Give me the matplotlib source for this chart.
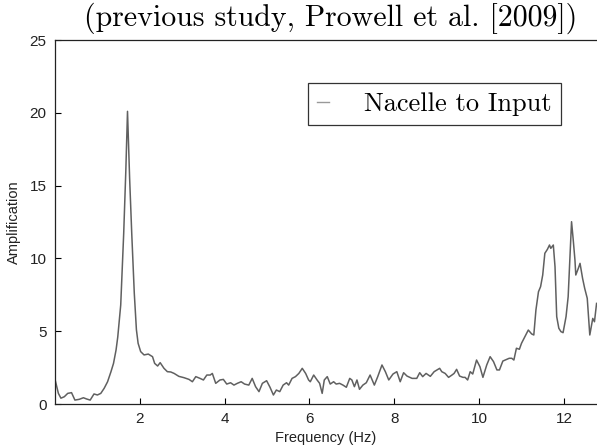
import matplotlib.pyplot as plt
from matplotlib.lines import Line2D

# transfer function, nacelle to input
FREQ = [0.0, 0.04, 0.08, 0.14, 0.22, 0.30, 0.39, 0.47, 0.57, 0.67, 0.75, 0.83, 0.92, 1.0,
        1.08, 1.16, 1.24, 1.32, 1.38, 1.44, 1.48, 1.55, 1.62, 1.67, 1.71, 1.76, 1.81, 1.87,
        1.92, 1.96, 2.02, 2.10, 2.20, 2.30, 2.35, 2.42, 2.48, 2.57, 2.65, 2.73, 2.81, 2.92,
        3.04, 3.16, 3.24, 3.32, 3.42, 3.50, 3.58, 3.66, 3.71, 3.79, 3.89, 3.97, 4.05, 4.14,
        4.22, 4.30, 4.39, 4.47, 4.57, 4.65, 4.73, 4.81, 4.89, 4.99, 5.07, 5.15, 5.22, 5.30,
        5.38, 5.46, 5.51, 5.59, 5.67, 5.75, 5.83, 5.91, 5.98, 6.02, 6.10, 6.18, 6.24, 6.30,
        6.35, 6.42, 6.49, 6.57, 6.63, 6.71, 6.79, 6.87, 6.95, 7.0, 7.06, 7.12, 7.18, 7.26,
        7.34, 7.43, 7.53, 7.61, 7.71, 7.79, 7.87, 7.97, 8.06, 8.14, 8.22, 8.30, 8.42, 8.53,
        8.60, 8.67, 8.75, 8.85, 8.94, 9.0, 9.07, 9.12, 9.2, 9.28, 9.36, 9.41, 9.47, 9.54,
        9.62, 9.67, 9.73, 9.79, 9.85, 9.94, 10.02, 10.09, 10.18, 10.26, 10.34, 10.42, 10.48,
        10.56, 10.64, 10.71, 10.77, 10.82, 10.88, 10.95, 11.0, 11.08, 11.16, 11.24, 11.29,
        11.34, 11.40, 11.45, 11.50, 11.55, 11.61, 11.66, 11.69, 11.75, 11.79, 11.83, 11.88,
        11.93, 11.98, 12.05, 12.10, 12.14, 12.18, 12.22, 12.26, 12.28, 12.34, 12.38, 12.44,
        12.49, 12.55, 12.61, 12.68, 12.72, 12.77]
AMP = [1.7, 1.2, 0.73, 0.4, 0.5, 0.73, 0.78, 0.27, 0.32, 0.43, 0.34, 0.27, 0.69, 0.62,
       0.73, 1.08, 1.53, 2.22, 2.79, 3.71, 4.6, 6.8, 11.7, 16.0, 20.1, 15.5, 11.7, 7.6,
       5.1, 4.17, 3.6, 3.37, 3.43, 3.25, 2.79, 2.61, 2.84, 2.45, 2.22, 2.2, 2.1, 1.9,
       1.81, 1.69, 1.53, 1.88, 1.76, 1.65, 1.99, 1.99, 2.1, 1.42, 1.65, 1.69, 1.37, 1.46,
       1.30, 1.42, 1.53, 1.37, 1.30, 1.76, 1.19, 0.85, 1.42, 1.6, 1.15, 0.62, 0.96, 0.85,
       1.30, 1.46, 1.30, 1.76, 1.88, 2.1, 2.45, 2.1, 1.65, 1.53, 1.99, 1.65, 1.42, 0.73,
       1.65, 1.88, 1.37, 1.53, 1.37, 1.42, 1.30, 1.15, 1.76, 1.65, 1.19, 1.65, 1.01, 1.30,
       1.46, 1.99, 1.30, 1.88, 2.68, 2.22, 1.65, 2.06, 2.22, 1.53, 2.15, 1.92, 1.76, 1.76,
       2.15, 1.88, 2.1, 1.9, 2.22, 2.33, 2.45, 2.22, 2.1, 1.83, 1.99, 2.1, 2.38, 1.92,
       1.83, 1.83, 1.65, 2.22, 2.06, 3.02, 2.56, 1.83, 2.68, 3.25, 2.91, 2.34, 2.34,
       2.95, 3.05, 3.14, 3.14, 3.02, 3.83, 3.76, 4.17, 4.62, 5.08, 4.81, 4.74,
       6.46, 7.71, 8.06, 8.86, 10.35, 10.62, 10.92, 10.69, 10.92, 9.43, 6.0, 5.2,
       4.97, 4.9, 6.0, 7.37, 9.89, 12.52, 11.26, 9.89, 8.86, 9.32, 9.66, 8.63,
       7.94, 7.26, 4.74, 5.88, 5.65, 6.91]

X_TICKS = [2, 4, 6, 8, 10, 12]
Y_TICKS = [0, 5, 10, 15, 20, 25]

TITLE = "(previous study, Prowell et al. [2009])"
SERIES_LABEL = "Nacelle to Input"
LINE_COLOR = "#606060"
SANS = "Liberation Sans"
SERIF = "cmr10"

fig = plt.figure(figsize=(5.97, 4.48), dpi=100)
ax = fig.add_axes([0.0921, 0.0982, 0.9079, 0.8125])

ax.plot(FREQ, AMP, color=LINE_COLOR, lw=1.1)

ax.set_xlim(0, 12.78)
ax.set_ylim(0, 25)
ax.set_xticks(X_TICKS)
ax.set_yticks(Y_TICKS)
ax.tick_params(direction="in", length=4, width=0.8, labelsize=11, pad=6,
               labelcolor="#222222")
for lab in ax.get_xticklabels() + ax.get_yticklabels():
    lab.set_fontfamily(SANS)
ax.spines["right"].set_visible(False)
for s in ["left", "bottom", "top"]:
    ax.spines[s].set_linewidth(0.9)
    ax.spines[s].set_color("#222222")

ax.set_xlabel("Frequency (Hz)", fontfamily=SANS, fontsize=10.5, labelpad=3,
              color="#222222")
ax.set_ylabel("Amplification", fontfamily=SANS, fontsize=10.5, labelpad=6,
              color="#222222")

handle = Line2D([0], [0], color="#999999", lw=1.0)
leg = ax.legend([handle], [SERIES_LABEL], loc="upper right", bbox_to_anchor=(0.934, 0.882),
                borderaxespad=0, fancybox=False, framealpha=1, edgecolor="#333333",
                handlelength=0.45, handletextpad=1.35, borderpad=0.35,
                prop={"family": SERIF, "size": 19})
leg.get_frame().set_linewidth(0.9)

fig.text(331 / 597, 1 - 18 / 448, TITLE, fontfamily=SERIF, fontsize=21.5,
         ha="center", va="center")

fig.savefig("out.png", dpi=100)
